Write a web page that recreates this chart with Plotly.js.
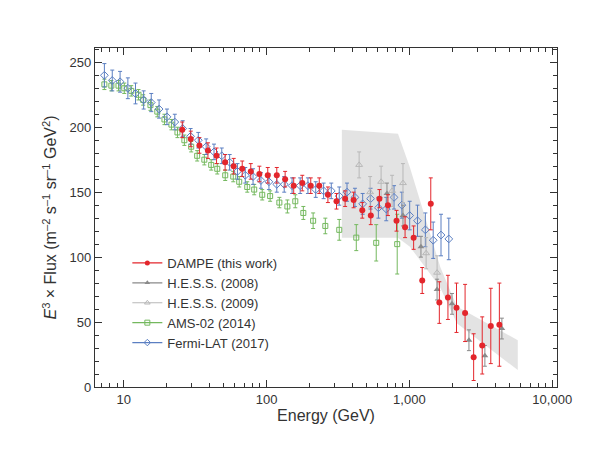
<!DOCTYPE html>
<html>
<head>
<meta charset="utf-8">
<script src="https://cdn.plot.ly/plotly-3.0.1.min.js"></script>
<style>body{margin:0;background:#fff}#chart{width:600px;height:454px}</style>
</head>
<body>
<div id="chart"></div>
<script>
const dampeE = [25.7,29.5,33.9,38.9,44.7,51.3,58.9,67.6,77.6,89.1,102,118,135,155,178,204,234,269,309,355,407,468,537,617,708,813,933,1071,1230,1412,1621,1862,2138,2455,2818,3236,3715,4266];
const dampeF = [198,191,186,182,178,173,170,168,166,164,163,163,160,155,157,155,155,148,143,145,144,136,132,145,140,128,123,115,82,141,65,69,61,57,23,32,47,48];
const dampeErr = [6,6,6,6,6,6,6,6,6,6,6,6,6,6,6,6,6,6,6,6,6,6,7,7,8,8,8,9,10,20,16,17,19,22,18,22,29,32];

const fermiE = [7.33,8.32,9.44,10.7,12.1,13.8,15.6,17.7,20.1,22.8,25.9,29.4,33.3,37.8,42.9,48.6,55.2,62.6,71.0,80.5,91.4,104,118,133,151,172,195,221,251,284,323,366,416,471,535,607,689,781,886,1005,1140,1294,1468,1665,1888];
const fermiF = [240,236,235,230,226,221,219,214,208,204,199,193,190,185,181,178,173,166,163,162,159,158,156,156,155,155,155,152,151,151,147,150,146,141,145,138,137,146,140,132,128,121,113,117,114];
const fermiErr = [9,8,8,8,8,7,7,7,6,6,6,6,6,6,6,6,6,6,6,6,6,6,6,6,6,6,6,6,6,6,7,7,7,8,8,8,9,9,10,11,12,13,14,16,16];

const amsE = [7.33,8.2,9.2,10.1,11.3,12.7,13.7,15.4,17.2,19.3,21.6,23.8,26.6,29.7,32.7,36.7,41.0,45.2,51.4,58.5,64.4,73.3,82.0,93.3,106,123,140,159,181,212,258,323,425,586,822];
const amsF = [233,232,232,230,228,225,221,217,212,206,202,196,190,185,178,175,171,168,163,162,158,154,152,148,147,142,139,143,134,128,124,121,115,111,110];
const amsErr = [4,4,4,4,4,4,4,4,4,4,4,4,4,4,4,4,4,4,4,4,4,4,4,4,4,4,5,5,5,6,6,8,10,14,23];

const hess08E = [697,902,1205,1563,1988,2612,3378,4442];
const hess08F = [149,132,108,75,64,36,24,45];
const hess08Err = [8,8,8,8,8,8,8,8];

const hess09E = [445,531,634,757,902,1310,1563];
const hess09F = [171,150,158,151,157,103,88];
const hess09Err = [10,12,12,12,15,12,13];

const bandE = [337,832,1009,1650,2150,5740,5740,2150,1637,1009,832,337];
const bandF = [198,195,169,92,62,36,13,49,77,108,115,115];

const red = '#e3262c', dgray = '#8a8a8a', lgray = '#b8b8b8', green = '#74b85e', blue = '#5b7fc2';

function pts(x, y, e, color, marker) {
  return {x: x, y: y, type: 'scatter', mode: 'markers', showlegend: false,
    error_y: {type: 'data', array: e, color: color, thickness: 1, width: 2},
    marker: marker};
}
function leg(name, color, marker) {
  return {x: [null], y: [null], type: 'scatter', mode: 'lines+markers', name: name,
    line: {color: color, width: 1.2}, marker: Object.assign({}, marker, {size: 5})};
}

const mDampe = {symbol: 'circle', size: 6, color: red};
const mH08 = {symbol: 'triangle-up', size: 6, color: dgray};
const mH09 = {symbol: 'triangle-up-open', size: 6, color: lgray, line: {width: 1}};
const mAms = {symbol: 'square-open', size: 5, color: green, line: {width: 1}};
const mFermi = {symbol: 'diamond-open', size: 6, color: blue, line: {width: 1}};

const data = [
  {x: bandE, y: bandF, type: 'scatter', mode: 'lines', fill: 'toself',
   fillcolor: 'rgba(200,200,200,0.5)', line: {width: 0}, showlegend: false, hoverinfo: 'skip'},
  pts(amsE, amsF, amsErr, green, mAms),
  pts(fermiE, fermiF, fermiErr, blue, mFermi),
  pts(hess09E, hess09F, hess09Err, lgray, mH09),
  pts(hess08E, hess08F, hess08Err, dgray, mH08),
  pts(dampeE, dampeF, dampeErr, red, mDampe),
  leg('DAMPE (this work)', red, mDampe),
  leg('H.E.S.S. (2008)', dgray, mH08),
  leg('H.E.S.S. (2009)', lgray, mH09),
  leg('AMS-02 (2014)', green, mAms),
  leg('Fermi-LAT (2017)', blue, mFermi)
];

const layout = {
  width: 600, height: 454,
  margin: {l: 95, r: 43, t: 48, b: 67},
  paper_bgcolor: '#fff', plot_bgcolor: '#fff',
  font: {family: 'Liberation Sans, Arial, sans-serif', size: 13, color: '#333'},
  xaxis: {type: 'log', range: [Math.log10(6.3), Math.log10(10800)],
    tickvals: [10, 100, 1000, 10000], ticktext: ['10', '100', '1,000', '10,000'],
    ticks: 'inside', ticklen: 7, tickcolor: '#333', showline: true, linecolor: '#333', linewidth: 1.2,
    mirror: 'ticks', showgrid: false, zeroline: false,
    minor: {ticks: 'inside', ticklen: 4, tickcolor: '#333', dtick: 'D1', showgrid: false},
    title: {text: 'Energy (GeV)', standoff: 4}},
  yaxis: {range: [0, 261], dtick: 50, ticks: 'inside', ticklen: 7, tickcolor: '#333',
    showline: true, linecolor: '#333', linewidth: 1.2, mirror: 'ticks', showgrid: false, zeroline: false,
    minor: {ticks: 'inside', ticklen: 4, tickcolor: '#333', dtick: 10, showgrid: false},
    title: {text: '<i>E</i><sup>3</sup> × Flux (m<sup>–2</sup> s<sup>–1</sup> sr<sup>–1</sup> GeV<sup>2</sup>)', standoff: 8}},
  legend: {x: 0.07, y: 0.41, xanchor: 'left', yanchor: 'top', bgcolor: 'rgba(0,0,0,0)',
    font: {size: 13, color: '#333'}, tracegroupgap: 0}
};

Plotly.newPlot('chart', data, layout, {staticPlot: true});
</script>
</body>
</html>
